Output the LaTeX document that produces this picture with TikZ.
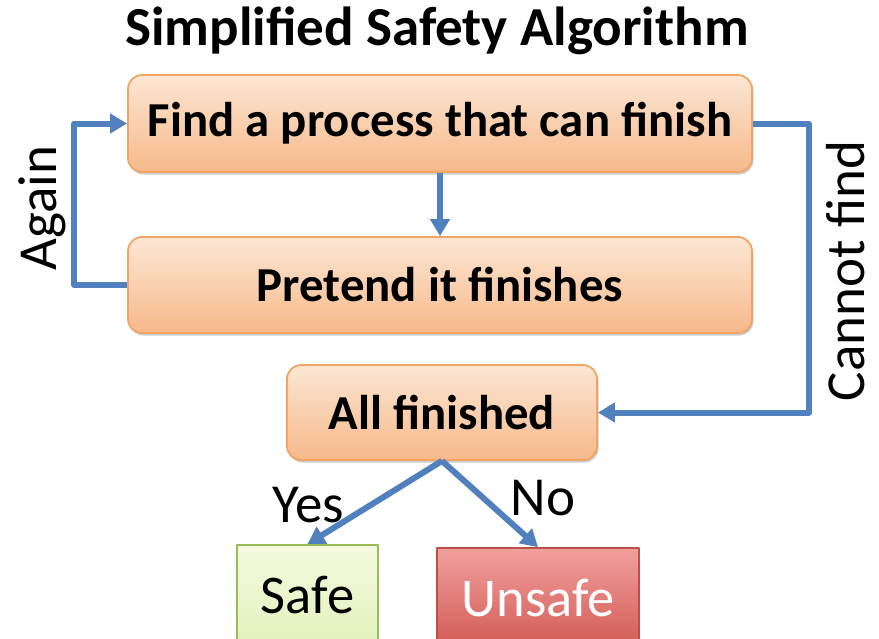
\documentclass[tikz,border=0pt]{standalone}
\usepackage{fontspec}
\setmainfont{Carlito}
\usetikzlibrary{arrows.meta,calc,positioning,shadows}
\definecolor{algBlue}{HTML}{5080BE}
\definecolor{algEdge}{HTML}{F2A465}
\definecolor{algTop}{HTML}{FCE6D4}
\definecolor{algBot}{HTML}{F6B98A}
\definecolor{okEdge}{HTML}{9BBB59}
\definecolor{okTop}{HTML}{F4FADF}
\definecolor{okBot}{HTML}{E2F1BC}
\definecolor{badEdge}{HTML}{B9504C}
\definecolor{badTop}{HTML}{F1A09D}
\definecolor{badBot}{HTML}{D25A55}
\tikzset{
 chart/.style={line join=round,x=1pt,y=-1pt},
 procbox/.style={rectangle,rounded corners=14pt,draw=algEdge,line width=1.8pt,
   top color=algTop,bottom color=algBot,inner sep=0pt,text=black,
   font=\fontsize{48.8}{52}\selectfont\bfseries,
   drop shadow={shadow xshift=1.5pt,shadow yshift=-2.5pt,opacity=.2,fill=black}},
 okbox/.style={rectangle,draw=okEdge,line width=1.8pt,top color=okTop,bottom color=okBot,
   inner sep=0pt,text=black,font=\fontsize{54.5}{56}\selectfont},
 badbox/.style={rectangle,draw=badEdge,line width=1.8pt,top color=badTop,bottom color=badBot,
   inner sep=0pt,text=white,font=\fontsize{54.5}{56}\selectfont},
 flow/.style={draw=algBlue,line width=6pt,-{Triangle[length=17pt,width=19pt]}},
 tag/.style={font=\fontsize{55}{57}\selectfont,inner sep=0pt},
 heading/.style={font=\fontsize{55}{58}\selectfont\bfseries,inner sep=0pt}
}

\begin{document}
\begin{tikzpicture}[chart]
 \useasboundingbox (0,0) rectangle (879,638);
 \clip (0,0) rectangle (879,638);
 \node[heading] (title) at (437,31) {Simplified Safety Algorithm};
 % boxes
 \node[procbox,minimum width=624pt,minimum height=97pt] (find) at (440,123.5) {Find a process that can finish};
 \node[procbox,minimum width=624pt,minimum height=96pt] (pretend) at (440,285) {Pretend it finishes};
 \node[procbox,minimum width=310pt,minimum height=95pt] (allfin) at (442,412.5) {All finished};
 \node[okbox,minimum width=141pt,minimum height=100pt] (safe) at (307.5,595) {Safe};
 \node[badbox,minimum width=202pt,minimum height=100pt] (unsafe) at (538,598) {Unsafe};
 % connectors
 \draw[flow] (find.south) -- (pretend.north);
 \draw[flow] (pretend.west) -- ++(-53,0) |- (find.west);
 \draw[flow] (find.east) -- ++(56,0) |- (allfin.east);
 \draw[flow] (allfin.south) -- (safe.north);
 \draw[flow] (allfin.south) -- (unsafe.north);
 % labels
 \node[tag,rotate=90] (again) at (42,208) {Again};
 \node[tag,rotate=90] (cannot) at (846,271) {Cannot find};
 \node[tag] (yes) at (308,505) {Yes};
 \node[tag] (no) at (543,498) {No};
\end{tikzpicture}
\end{document}
